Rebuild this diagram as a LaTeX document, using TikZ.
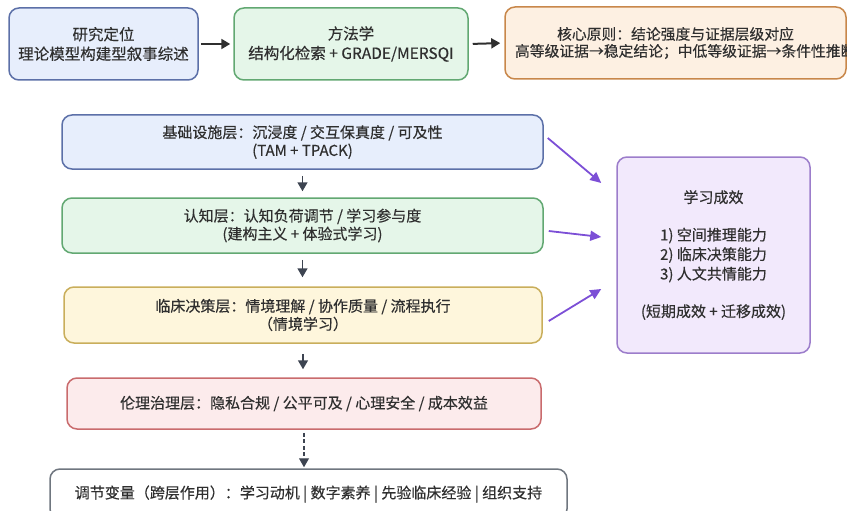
\documentclass[tikz,border=0pt]{standalone}
\usepackage{fontspec}
\setmainfont{Noto Sans CJK SC}[FakeBold=0.35]
\usetikzlibrary{arrows.meta,calc}
\definecolor{bluef}{HTML}{E7EEFC}
\definecolor{blued}{HTML}{5C70A8}
\definecolor{greenf}{HTML}{E5F6E9}
\definecolor{greend}{HTML}{62A872}
\definecolor{orangef}{HTML}{FDF0E2}
\definecolor{oranged}{HTML}{C8874A}
\definecolor{yellowf}{HTML}{FEF6DC}
\definecolor{yellowd}{HTML}{C9AE5B}
\definecolor{redf}{HTML}{FCEBEC}
\definecolor{redd}{HTML}{C96B6D}
\definecolor{purplef}{HTML}{F2E9FC}
\definecolor{purpled}{HTML}{9C7DCB}
\definecolor{purplea}{HTML}{7C4FD6}
\definecolor{grayd}{HTML}{6F767F}
\definecolor{txt}{HTML}{2F2F2F}
\definecolor{darr}{HTML}{3D4451}
\begin{document}
\begin{tikzpicture}[x=1pt,y=-1pt,
  box/.style={rectangle, rounded corners=10pt, line width=1.5pt, inner sep=0pt, align=center, text=txt},
  topfont/.style={font=\fontsize{15.5}{19.5}\selectfont},
  layfont/.style={font=\fontsize{15}{18}\selectfont},
  toparrow/.style={draw=txt, line width=2pt, -{Triangle[length=9pt,width=10pt]}},
  vertarrow/.style={draw=darr, line width=1.6pt, -{Triangle[length=9pt,width=10pt]}},
  purarrow/.style={draw=purplea, line width=1.8pt, -{Triangle[length=11pt,width=10pt]}}
]
\useasboundingbox (0,0) rectangle (847,511);
\clip (0,0) rectangle (847,511);

% top row
\node[box, topfont, fill=bluef, draw=blued, minimum width=189, minimum height=72] (b1) at (103.5,44)
  {研究定位\\理论模型构建型叙事综述};
\node[box, topfont, fill=greenf, draw=greend, minimum width=234, minimum height=72] (b2) at (351,44)
  {方法学\\结构化检索 + GRADE/MERSQI};
\node[box, font=\fontsize{14.8}{17}\selectfont, fill=orangef, draw=oranged, minimum width=341, minimum height=72, text width=321] (b3) at (675.5,43)
  {核心原则：结论强度与证据层级对应\\\makebox[321pt][l]{高等级证据→稳定结论；中低等级证据→条件性推断}};

\draw[toparrow, shorten <=2pt, shorten >=3pt] (b1.east) -- (b2.west);
\draw[toparrow, shorten <=4pt, shorten >=4pt] (b2.east) -- (b3.west);

% layers
\node[box, layfont, fill=bluef, draw=blued, minimum width=481, minimum height=54] (L1) at (302.5,142)
  {基础设施层：沉浸度 / 交互保真度 / 可及性\\(TAM + TPACK)};
\node[box, layfont, fill=greenf, draw=greend, minimum width=481, minimum height=55] (L2) at (302.5,225.5)
  {认知层：认知负荷调节 / 学习参与度\\(建构主义 + 体验式学习)};
\node[box, layfont, fill=yellowf, draw=yellowd, minimum width=478, minimum height=56] (L3) at (303,315)
  {临床决策层：情境理解 / 协作质量 / 流程执行\\（情境学习）};
\node[box, layfont, fill=redf, draw=redd, minimum width=474, minimum height=51] (L4) at (304,403.5)
  {伦理治理层：隐私合规 / 公平可及 / 心理安全 / 成本效益};
\node[box, layfont, fill=white, draw=grayd, minimum width=517, minimum height=50] (L5) at (308.5,494)
  {调节变量（跨层作用）：学习动机 | 数字素养 | 先验临床经验 | 组织支持};

% outcome
\node[box, font=\fontsize{15}{19.5}\selectfont, fill=purplef, draw=purpled, minimum width=193, minimum height=196] (out) at (713.5,255)
  {学习成效\\[18pt]1) 空间推理能力\\2) 临床决策能力\\3) 人文共情能力\\[18pt](短期成效 + 迁移成效)};

% vertical arrows
\draw[vertarrow, shorten <=6pt, shorten >=6pt] (L1.south) -- (L1.south |- L2.north);
\draw[vertarrow, shorten <=6pt, shorten >=9pt] (L2.south) -- (L2.south |- L3.north);
\draw[vertarrow, shorten <=10pt, shorten >=8pt] (L3.south) -- (L3.south |- L4.north);
\draw[draw=darr, line width=1.1pt, dash pattern=on 4pt off 2.5pt, -{Triangle[length=9pt,width=10pt]}, shorten <=3pt, shorten >=1pt] (L4.south) -- (L4.south |- L5.north);

% purple arrows
\coordinate (o1) at ($(out.west)+(-15,-72)$);
\coordinate (o2) at ($(out.west)+(-15,-18)$);
\coordinate (o3) at ($(out.west)+(-15,34)$);
\draw[purarrow] ($(L1.east)+(4,-4)$) -- (o1);
\draw[purarrow] ($(L2.east)+(5,5.5)$) -- (o2);
\draw[purarrow] ($(L3.east)+(6,6)$) -- (o3);
\end{tikzpicture}
\end{document}
